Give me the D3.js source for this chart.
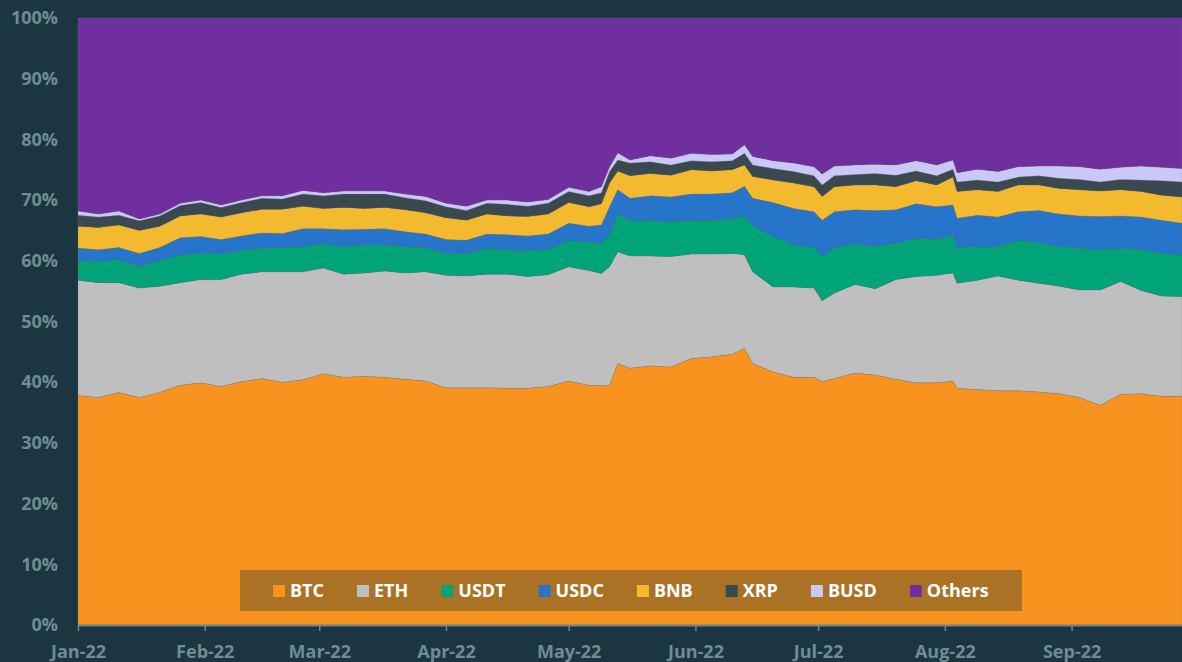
<!DOCTYPE html>
<html>
<head>
	<meta charset="utf-8">
	<title>Crypto market share 2022</title>
	<script type="text/javascript" src="https://d3js.org/d3.v7.min.js"></script>
	<style type="text/css">
		body {
			margin: 0;
			background: #1b3640;
		}
		.axis text {
			font-family: "Open Sans", sans-serif;
			font-size: 18px;
			font-weight: 700;
			fill: #6f8c95;
		}
		.legend text {
			font-family: "Open Sans", sans-serif;
			font-size: 18px;
			font-weight: 700;
			fill: #ffffff;
		}
	</style>
</head>
<body>
	<script type="text/javascript">
		// day offsets from 1 Jan 2022
		var days = [0,5,10,15,20,25,30,35,40,45,50,55,60,65,70,75,80,85,90,95,100,105,110,115,120,125,128,130,132,135,
			140,145,150,155,160,163,165,170,175,180,182,185,190,195,200,205,210,214,215,220,225,230,235,240,245,250,255,260,265,270];

		var series = ["BTC", "ETH", "USDT", "USDC", "BNB", "XRP", "BUSD", "Others"];
		var colors = ["#f7931e", "#bfbfbf", "#00a478", "#2775ca", "#f3b92f", "#3a4850", "#cbc8f9", "#6f2f9e"];

		// share in %
		var btc = [37.8,37.5,38.3,37.5,38.3,39.5,39.9,39.3,40.1,40.6,40.0,40.4,41.4,40.8,41.0,40.8,40.5,40.2,39.1,39.1,39.1,39.0,39.0,39.3,40.2,39.5,39.4,39.5,43.1,42.3,
			42.7,42.5,43.9,44.2,44.6,45.6,43.1,41.7,40.8,40.8,40.1,40.6,41.5,41.2,40.5,39.9,39.9,40.2,39.0,38.8,38.6,38.6,38.4,38.1,37.5,36.2,38.0,38.1,37.7,37.7];
		var eth = [19.0,18.9,18.1,18.0,17.5,16.9,17.0,17.6,17.7,17.6,18.2,17.8,17.4,17.0,17.0,17.5,17.5,18.0,18.5,18.4,18.7,18.8,18.4,18.4,18.8,18.9,18.5,19.5,18.4,18.5,
			18.1,18.2,17.2,16.9,16.6,15.4,15.1,14.0,14.9,14.7,13.3,14.1,14.6,14.2,16.4,17.5,17.7,17.8,17.3,18.0,18.9,18.2,17.9,17.7,17.7,19.0,18.6,17.0,16.5,16.4];
		var usdt = [3.3,3.5,3.8,3.5,4.3,4.6,4.4,4.3,3.9,3.9,3.9,4.2,4.0,4.5,4.6,4.3,4.3,3.9,3.7,3.7,4.3,4.0,4.2,4.2,4.4,4.7,5.0,5.3,6.2,5.9,
			5.9,5.7,5.6,5.6,5.8,6.4,7.7,8.3,6.9,6.8,7.3,7.5,6.7,7.0,6.0,6.3,5.9,6.3,5.8,5.6,4.9,6.6,6.7,6.6,6.9,6.6,5.5,6.8,7.1,6.9];
		var usdc = [2.0,1.9,2.0,2.2,2.1,2.8,2.7,2.3,2.4,2.5,2.4,2.9,2.5,2.8,2.6,2.7,2.5,2.3,2.2,2.2,2.3,2.5,2.5,2.5,2.8,2.6,3.0,4.6,4.0,3.6,
			4.0,4.1,4.3,4.3,4.2,4.9,4.4,5.6,6.0,5.8,6.0,5.9,5.6,5.9,5.5,5.7,5.4,4.9,4.9,5.1,4.8,4.7,5.3,5.3,5.3,5.5,5.3,5.3,5.4,5.2];
		var bnb = [3.6,3.7,3.7,3.8,3.5,3.6,3.7,3.7,3.8,3.9,4.0,3.7,3.3,3.7,3.4,3.5,3.6,3.5,3.6,3.3,3.3,3.1,3.2,3.3,3.4,3.2,3.5,3.9,3.1,3.7,
			3.7,3.6,4.0,3.8,3.8,3.5,3.6,3.7,4.2,4.1,3.9,4.1,4.1,4.2,3.8,3.8,3.6,4.6,4.4,4.2,4.2,4.4,4.2,4.2,4.3,4.2,4.3,4.2,4.1,4.3];
		var xrp = [1.8,1.7,1.6,1.6,1.7,1.7,1.9,1.6,1.7,1.8,1.7,2.0,2.1,2.2,2.4,2.2,2.0,2.0,1.8,1.6,1.8,1.9,1.7,1.8,1.8,1.8,1.8,1.9,1.8,2.1,
			1.9,1.7,1.5,1.5,1.5,1.9,1.9,1.9,1.9,1.8,1.9,1.8,1.7,1.9,1.9,1.6,1.5,1.3,1.6,1.6,1.6,1.3,1.5,1.7,1.7,1.5,1.7,1.9,2.4,2.5];
		var busd = [0.7,0.5,0.7,0.3,0.3,0.4,0.4,0.4,0.4,0.4,0.5,0.6,0.5,0.5,0.5,0.5,0.6,0.7,0.6,0.7,0.5,0.7,0.7,0.6,0.7,0.7,1.0,0.8,1.2,0.5,
			1.0,1.1,1.2,1.2,1.1,1.4,1.4,1.3,1.4,1.5,1.8,1.6,1.6,1.5,1.7,1.7,1.8,1.5,1.5,1.8,1.7,1.7,1.6,2.0,2.1,2.1,2.0,2.3,2.2,2.2];
		var others = [31.8,32.3,31.8,33.1,32.3,30.5,30.0,30.8,30.0,29.3,29.3,28.4,28.8,28.5,28.5,28.5,29.0,29.4,30.5,31.0,30.0,30.0,30.3,29.9,27.9,28.6,27.8,24.5,22.2,23.4,
			22.7,23.1,22.3,22.5,22.4,20.9,22.8,23.5,23.9,24.5,25.7,24.4,24.2,24.1,24.2,23.5,24.2,23.4,25.5,24.9,25.3,24.5,24.4,24.4,24.5,24.9,24.6,24.4,24.6,24.8];

		var yTicks = [0, 0.1, 0.2, 0.3, 0.4, 0.5, 0.6, 0.7, 0.8, 0.9, 1];

		var outer_width = 1182;
		var outer_height = 662;
		var margin = {top:18, right:0, bottom:37, left:78};

		var seriesValues = [btc, eth, usdt, usdc, bnb, xrp, busd, others];
		var start = new Date(2022, 0, 1);

		var dataset = days.map(function(d, i){
			var row = {date: d3.timeDay.offset(start, d)};
			series.forEach(function(s, j){ row[s] = seriesValues[j][i]; });
			return row;
		});

		var svg = d3.select("body")
					.append("svg")
					.attr("width", outer_width)
					.attr("height", outer_height);

		var xScale = d3.scaleTime()
						.domain([start, d3.timeDay.offset(start, 270)])
						.range([margin.left, outer_width - margin.right]);

		var yScale = d3.scaleLinear()
						.domain([0, 1])
						.range([outer_height - margin.bottom - 0, margin.top]);

		var stack = d3.stack()
						.keys(series)
						.offset(d3.stackOffsetExpand);

		var layers = stack(dataset);

		var area = d3.area()
						.x(function(d){ return xScale(d.data.date); })
						.y0(function(d){ return yScale(d[0]); })
						.y1(function(d){ return yScale(d[1]); });

		svg.append("g")
			.selectAll("path")
			.data(layers)
			.enter()
			.append("path")
			.attr("d", area)
			.style("fill", function(d, i){ return colors[i]; })
			.style("stroke", "#7d7d7d")
			.style("stroke-opacity", 0.35)
			.style("stroke-width", 0.7);

		// y axis labels
		var yaxis = d3.axisLeft(yScale)
						.tickValues(yTicks)
						.tickFormat(d3.format(".0%"))
						.tickSize(0)
						.tickPadding(20);

		svg.append("g")
			.attr("class", "axis")
			.attr("transform", "translate(" + margin.left + ",0)")
			.call(yaxis)
			.call(function(g){ g.select(".domain").remove(); });

		// x axis
		var xaxis = d3.axisBottom(xScale)
						.ticks(d3.timeMonth.every(1))
						.tickFormat(d3.timeFormat("%b-%y"))
						.tickSizeInner(6)
						.tickSizeOuter(0)
						.tickPadding(14);

		var xa = svg.append("g")
			.attr("class", "axis")
			.attr("transform", "translate(0," + yScale(0) + ")")
			.call(xaxis);

		xa.select(".domain").attr("stroke", "#6a8791").attr("stroke-width", 2);
		xa.selectAll(".tick line").attr("stroke", "#6a8791").attr("stroke-width", 1.5);

		// legend
		var legend = svg.append("g").attr("class", "legend");

		legend.append("rect")
			.attr("x", 240)
			.attr("y", 570)
			.attr("width", 782)
			.attr("height", 41)
			.style("fill", "#ab7226");

		var lx = 273;
		series.forEach(function(s, i){
			legend.append("rect")
				.attr("x", lx)
				.attr("y", 585)
				.attr("width", 12)
				.attr("height", 12)
				.style("fill", colors[i]);

			var t = legend.append("text")
				.attr("x", lx + 17)
				.attr("y", 597)
				.text(s);

			lx = lx + 17 + t.node().getComputedTextLength() + 33;
		});
	</script>
</body>
</html>
